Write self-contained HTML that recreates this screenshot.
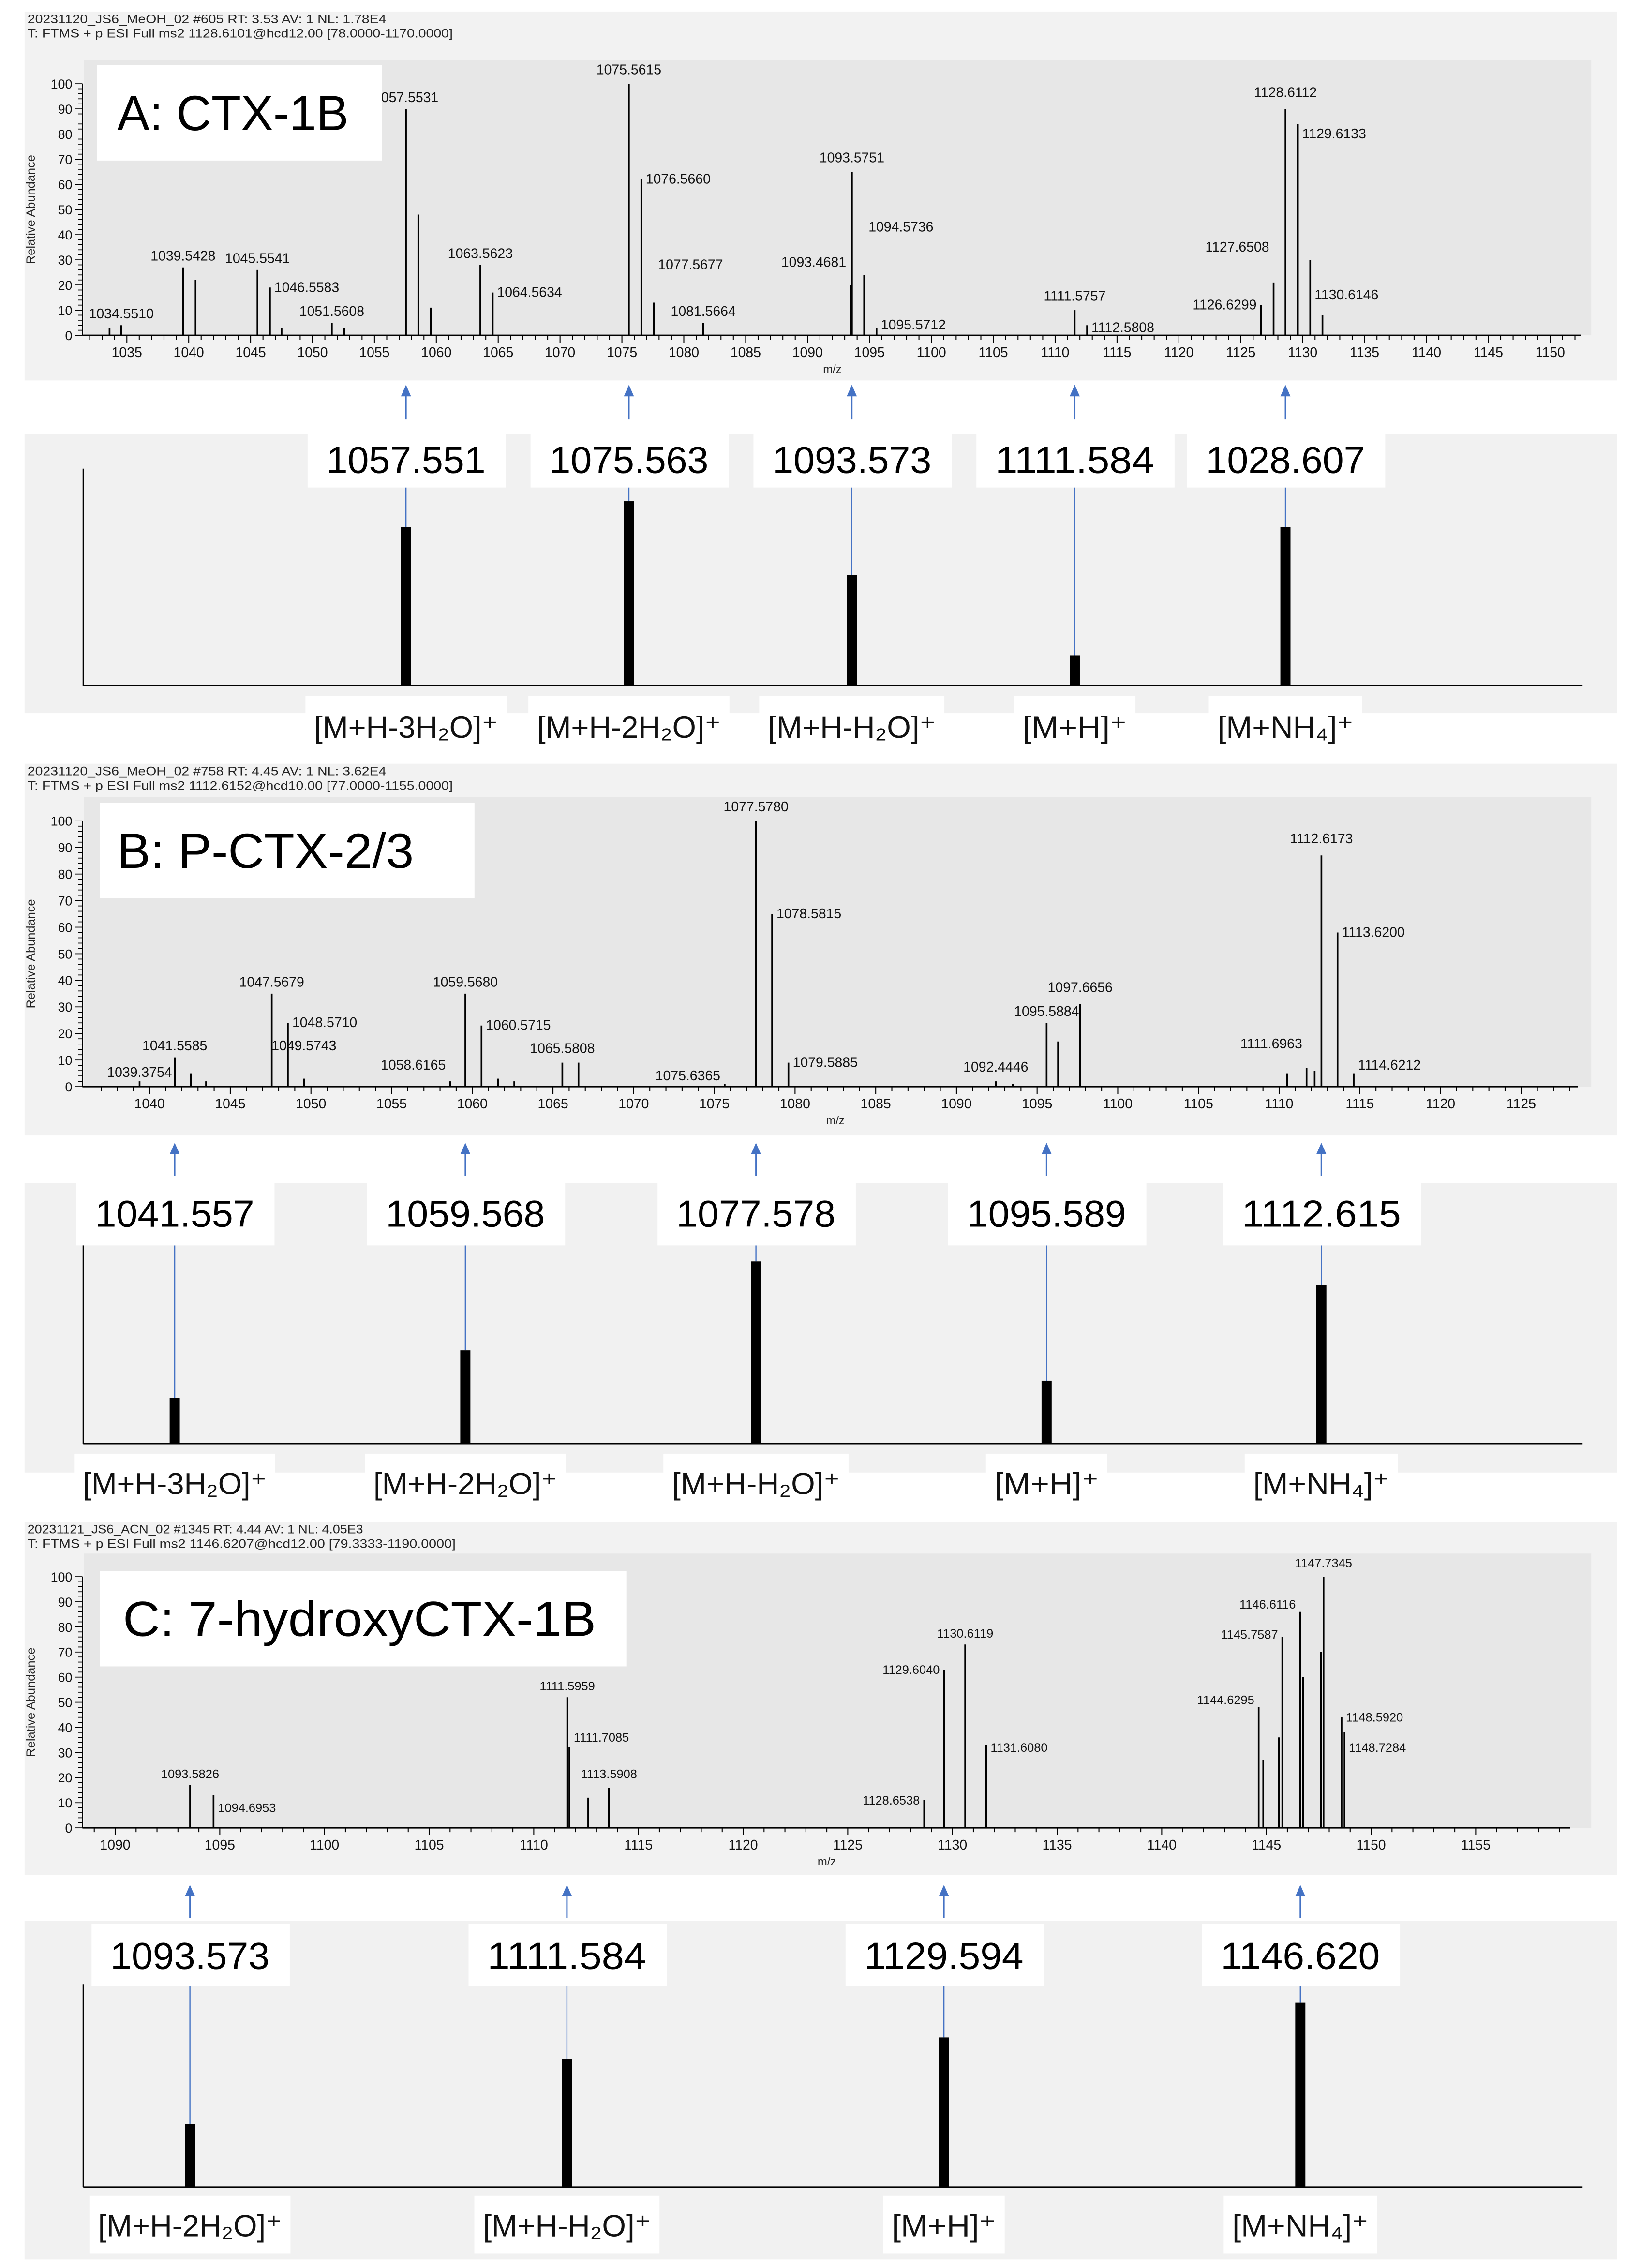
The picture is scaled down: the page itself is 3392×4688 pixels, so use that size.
<!DOCTYPE html>
<html><head><meta charset="utf-8"><style>
html,body{margin:0;padding:0;background:#fff;}
svg{display:block;}
text{font-family:"Liberation Sans",sans-serif;}
</style></head>
<body>
<svg id="fig" xmlns="http://www.w3.org/2000/svg" width="3392" height="4688" viewBox="0 0 1134.4 1567.9" preserveAspectRatio="none"></svg>
<script>
// ---------- DATA ----------
// Panel A spectrum
const aMz  = [1033.6,1034.55,1039.54,1040.55,1045.55,1046.56,1047.5,1051.56,1052.56,1057.55,1058.55,1059.55,1063.56,1064.56,1075.56,1076.57,1077.57,1081.57,1093.47,1093.58,1094.57,1095.57,1111.58,1112.58,1126.63,1127.65,1128.61,1129.61,1130.61,1131.6];
const aInt = [3,4,27,22,26,19,3,5,3,90,48,11,28,17,100,62,13,5,20,65,24,3,10,4,12,21,90,84,30,8];
const aLabMz   = [1034.55,1039.54,1045.55,1046.56,1051.56,1057.55,1063.56,1064.56,1075.56,1076.57,1077.57,1081.57,1093.47,1093.58,1094.57,1095.57,1111.58,1112.58,1126.63,1127.65,1128.61,1129.61,1130.61];
const aLabText = ['1034.5510','1039.5428','1045.5541','1046.5583','1051.5608','1057.5531','1063.5623','1064.5634','1075.5615','1076.5660','1077.5677','1081.5664','1093.4681','1093.5751','1094.5736','1095.5712','1111.5757','1112.5808','1126.6299','1127.6508','1128.6112','1129.6133','1130.6146'];
const aLabLvl  = [5,28,27,19,6,91,29,17,102,62,28,6,29,67,43,4,12,3,12,35,93,80,16];
const aLabMode = ['c','c','c','r','c','c','c','r','c','r','r','c','l','c','r','r','c','r','l','l','c','r','r'];
const aTicks = [1035,1040,1045,1050,1055,1060,1065,1070,1075,1080,1085,1090,1095,1100,1105,1110,1115,1120,1125,1130,1135,1140,1145,1150];
// Panel A diagnostic ions
const aIonMz  = [1057.551,1075.563,1093.573,1111.584,1128.607];
const aIonTxt = ['1057.551','1075.563','1093.573','1111.584','1028.607'];
const aIonInt = [73,85,51,14,73];
const aIonLab = ['[M+H-3H₂O]⁺','[M+H-2H₂O]⁺','[M+H-H₂O]⁺','[M+H]⁺','[M+NH₄]⁺'];

// Panel B spectrum
const bMz  = [1039.38,1041.56,1042.56,1043.5,1047.57,1048.57,1049.57,1058.62,1059.57,1060.57,1061.6,1062.6,1065.58,1066.58,1075.64,1077.58,1078.58,1079.59,1092.44,1093.5,1095.59,1096.3,1097.67,1110.5,1111.7,1112.2,1112.62,1113.62,1114.62];
const bInt = [2,11,5,2,35,24,3,2,35,23,3,2,9,9,1,100,65,9,2,1,24,17,31,5,7,6,87,58,5];
const bLabMz   = [1039.38,1041.56,1047.57,1048.57,1049.57,1058.62,1059.57,1060.57,1065.58,1075.64,1077.58,1078.58,1079.59,1092.44,1095.59,1097.67,1111.7,1112.62,1113.62,1114.62];
const bLabText = ['1039.3754','1041.5585','1047.5679','1048.5710','1049.5743','1058.6165','1059.5680','1060.5715','1065.5808','1075.6365','1077.5780','1078.5815','1079.5885','1092.4446','1095.5884','1097.6656','1111.6963','1112.6173','1113.6200','1114.6212'];
const bLabLvl  = [2,12,36,24,12,8,36,23,11,4,102,65,9,4,25,34,16,90,58,8];
const bLabMode = ['c','c','c','r','c','l','c','r','c','l','c','r','r','c','c','c','l','c','r','r'];
const bTicks = [1040,1045,1050,1055,1060,1065,1070,1075,1080,1085,1090,1095,1100,1105,1110,1115,1120,1125];
const bIonMz  = [1041.557,1059.568,1077.578,1095.589,1112.615];
const bIonTxt = ['1041.557','1059.568','1077.578','1095.589','1112.615'];
const bIonInt = [21,43,84,29,73];
const bIonLab = ['[M+H-3H₂O]⁺','[M+H-2H₂O]⁺','[M+H-H₂O]⁺','[M+H]⁺','[M+NH₄]⁺'];

// Panel C spectrum
const cMz  = [1093.58,1094.7,1111.6,1111.7,1112.6,1113.59,1128.65,1129.6,1130.61,1131.61,1144.63,1144.85,1145.6,1145.76,1146.61,1146.75,1147.6,1147.73,1148.59,1148.73];
const cInt = [17,13,52,32,12,16,11,63,73,33,48,27,36,76,86,60,70,100,44,38];
const cLabMz   = [1093.58,1094.7,1111.6,1111.7,1113.59,1128.65,1129.6,1130.61,1131.61,1144.63,1145.76,1146.61,1147.73,1148.59,1148.73];
const cLabText = ['1093.5826','1094.6953','1111.5959','1111.7085','1113.5908','1128.6538','1129.6040','1130.6119','1131.6080','1144.6295','1145.7587','1146.6116','1147.7345','1148.5920','1148.7284'];
const cLabLvl  = [18,8,53,36,18,11,63,74,32,51,77,89,102,44,32];
const cLabMode = ['c','r','c','r','c','l','l','c','r','l','l','l','c','r','r'];
const cTicks = [1090,1095,1100,1105,1110,1115,1120,1125,1130,1135,1140,1145,1150,1155];
const cIonMz  = [1093.573,1111.584,1129.594,1146.620];
const cIonTxt = ['1093.573','1111.584','1129.594','1146.620'];
const cIonInt = [29,59,69,85];
const cIonLab = ['[M+H-2H₂O]⁺','[M+H-H₂O]⁺','[M+H]⁺','[M+NH₄]⁺'];
const yTicks = [0,10,20,30,40,50,60,70,80,90,100];

// ---------- DRAW ----------
const NS='http://www.w3.org/2000/svg';
const svg=document.getElementById('fig');
function el(tag,attrs,parent,txt){const e=document.createElementNS(NS,tag);for(const k in attrs)e.setAttribute(k,attrs[k]);if(txt!==undefined)e.textContent=txt;(parent||svg).appendChild(e);return e;}

function spectrum(P){
  const g=el('g',{});
  
  
  const X=m=>P.x0+(m-P.m0)*P.k;
  const Y=v=>P.y0-v*P.ky;
  const bg=el('rect',{x:17,y:P.top,width:1101,height:P.bot-P.top,fill:'#f2f2f2'},g);
  
  
  const pl=el('rect',{x:58,y:P.inTop,width:1042,height:P.y0-P.inTop,fill:'#e7e7e7'},g);
  
  
  const h1=el('text',{x:19,y:P.top+8,'font-size':8.5,textLength:P.h1w,lengthAdjust:'spacingAndGlyphs',fill:'#222'},g,P.h1);
  
  
  const h2=el('text',{x:19,y:P.top+18,'font-size':8.5,textLength:P.h2w,lengthAdjust:'spacingAndGlyphs',fill:'#222'},g,P.h2);
  
  
  // axes
  const xa=el('line',{x1:57,y1:P.y0,x2:X(P.mEnd),y2:P.y0,stroke:'#000','stroke-width':1},g);
  
  
  const ya=el('line',{x1:57,y1:P.y0,x2:57,y2:Y(100),stroke:'#000','stroke-width':0.8},g);
  
  
  for(let m=Math.ceil(P.mStart);m<=P.mEnd;m++){
    el('line',{x1:X(m),y1:P.y0,x2:X(m),y2:P.y0+(m%5===0?5:3),stroke:'#000','stroke-width':0.7},g);
  }
  P.ticks.forEach(t=>{
    const tl=el('text',{x:X(t),y:P.y0+15,'font-size':9.5,'text-anchor':'middle',fill:'#111'},g,String(t));
    
    
  });
  for(let v=0;v<=100;v+=2){
    el('line',{x1:v%10===0?52:54,y1:Y(v),x2:57,y2:Y(v),stroke:'#000','stroke-width':0.6},g);
  }
  yTicks.forEach(v=>{
    const tl=el('text',{x:50,y:Y(v)+3.3,'font-size':9,'text-anchor':'end',fill:'#111'},g,String(v));
    
    
  });
  const yl=el('text',{x:0,y:0,'font-size':8.5,'text-anchor':'middle',fill:'#222',transform:`translate(24,${(P.y0+Y(100))/2}) rotate(-90)`},g,'Relative Abundance');
  
  
  const xl=el('text',{x:X((P.mStart+P.mEnd)/2),y:P.y0+26,'font-size':8,'text-anchor':'middle',fill:'#222'},g,'m/z');
  
  
  // peaks
  P.mz.forEach((m,i)=>{
    const p=el('line',{x1:X(m),y1:P.y0,x2:X(m),y2:Y(P.int[i]),stroke:'#000','stroke-width':1.2},g);
    
    
  });
  // peak labels
  P.labMz.forEach((m,i)=>{
    const mode=P.labMode[i], yl=Y(P.labLvl[i]);
    let a={x:X(m),y:yl-3,'text-anchor':'middle'};
    if(mode==='r')a={x:X(m)+3,y:yl+3,'text-anchor':'start'};
    if(mode==='l')a={x:X(m)-3,y:yl+3,'text-anchor':'end'};
    a['font-size']=P.lfs;a.fill='#111';
    const t=el('text',a,g,P.labText[i]);
    
    
  });
  // title box
  const tb=el('rect',{x:P.tb[0],y:P.tb[1],width:P.tb[2],height:P.tb[3],fill:'#fff'},g);
  
  
  const tt=el('text',{x:P.tb[0]+P.tx,y:P.tb[1]+P.tb[3]/2+12,'font-size':34,textLength:P.tw,lengthAdjust:'spacingAndGlyphs',fill:'#000'},g,P.title);
  
  
  return X;
}

function ions(L,X){
  const g=el('g',{});
  
  
  const bg=el('rect',{x:17,y:L.top,width:1101,height:L.bot-L.top,fill:'#f1f1f1'},g);
  
  
  const ya=el('line',{x1:57.6,y1:L.axisTop,x2:57.6,y2:L.base,stroke:'#000','stroke-width':1},g);
  
  
  const xa=el('line',{x1:57.6,y1:L.base,x2:1094,y2:L.base,stroke:'#000','stroke-width':1},g);
  
  
  L.mz.forEach((m,i)=>{
    const x=X(m), top=L.base-L.int[i]*L.s;
    // arrow
    const ar=el('line',{x1:x,y1:L.arT+5,x2:x,y2:L.arB,stroke:'#4472c4','stroke-width':1},g);
    
    
    const ah=el('polygon',{points:`${x-3.5},${L.arT+7} ${x+3.5},${L.arT+7} ${x},${L.arT-1}`,fill:'#4472c4'},g);
    
    
    const bl=el('line',{x1:x,y1:L.boxB,x2:x,y2:top,stroke:'#4472c4','stroke-width':0.8},g);
    
    
    const b=el('rect',{x:x-3.5,y:top,width:7,height:L.base-top,fill:'#000'},g);
    
    
    const lb=el('rect',{x:x-68,y:L.boxT,width:137,height:L.boxB-L.boxT,fill:'#fff'},g);
    
    
    const lt=el('text',{x:x,y:L.txtY,'font-size':26,'text-anchor':'middle',textLength:110,lengthAdjust:'spacingAndGlyphs',fill:'#000'},g,L.txt[i]);
    
    
    const w=L.lab[i].length*11+6;
    const ib=el('rect',{x:x-w/2-6,y:L.blT,width:w+12,height:L.blB-L.blT,fill:'#fff'},g);
    
    
    const it=el('text',{x:x,y:L.blY,'font-size':21,'text-anchor':'middle',textLength:w,lengthAdjust:'spacingAndGlyphs',fill:'#111'},g,L.lab[i]);
    
    
  });
}

const XA=spectrum({name:'spectrum-a',top:8,bot:263,inTop:41.6,x0:87.7,m0:1035,k:8.556,y0:231.8,ky:1.739,mStart:1031.5,mEnd:1152.5,
  h1:'20231120_JS6_MeOH_02 #605 RT: 3.53 AV: 1 NL: 1.78E4',h1w:248,h2:'T: FTMS + p ESI Full ms2 1128.6101@hcd12.00 [78.0000-1170.0000]',h2w:294,
  mz:aMz,int:aInt,labMz:aLabMz,labText:aLabText,labLvl:aLabLvl,labMode:aLabMode,ticks:aTicks,lfs:9.5,
  tb:[67,45,197,66],tx:14,tw:160,title:'A: CTX-1B'});
ions({name:'ion-panel-a',top:300,bot:493,axisTop:324,base:474,s:1.5,arT:267,arB:290,boxT:299,boxB:337,txtY:327,blT:481,blB:520,blY:510,
  mz:aIonMz,txt:aIonTxt,int:aIonInt,lab:aIonLab},XA);

const XB=spectrum({name:'spectrum-b',top:528,bot:785,inTop:551,x0:103.4,m0:1040,k:11.155,y0:751.2,ky:1.837,mStart:1036.5,mEnd:1128.5,
  h1:'20231120_JS6_MeOH_02 #758 RT: 4.45 AV: 1 NL: 3.62E4',h1w:248,h2:'T: FTMS + p ESI Full ms2 1112.6152@hcd10.00 [77.0000-1155.0000]',h2w:294,
  mz:bMz,int:bInt,labMz:bLabMz,labText:bLabText,labLvl:bLabLvl,labMode:bLabMode,ticks:bTicks,lfs:9.5,
  tb:[69,555,259,66],tx:12,tw:205,title:'B: P-CTX-2/3'});
ions({name:'ion-panel-b',top:818,bot:1018,axisTop:860,base:998,s:1.5,arT:791,arB:813,boxT:815,boxB:861,txtY:848,blT:1005,blB:1043,blY:1033,
  mz:bIonMz,txt:bIonTxt,int:bIonInt,lab:bIonLab},XB);

const XC=spectrum({name:'spectrum-c',top:1052,bot:1296,inTop:1074,x0:79.6,m0:1090,k:14.47,y0:1263.6,ky:1.736,mStart:1088.5,mEnd:1159.5,
  h1:'20231121_JS6_ACN_02 #1345 RT: 4.44 AV: 1 NL: 4.05E3',h1w:232,h2:'T: FTMS + p ESI Full ms2 1146.6207@hcd12.00 [79.3333-1190.0000]',h2w:296,
  mz:cMz,int:cInt,labMz:cLabMz,labText:cLabText,labLvl:cLabLvl,labMode:cLabMode,ticks:cTicks,lfs:8.5,
  tb:[69,1086,364,66],tx:16,tw:327,title:'C: 7-hydroxyCTX-1B'});
ions({name:'ion-panel-c',top:1328,bot:1562,axisTop:1372,base:1512,s:1.5,arT:1304,arB:1326,boxT:1330,boxB:1373,txtY:1361,blT:1518,blB:1558,blY:1546,
  mz:cIonMz,txt:cIonTxt,int:cIonInt,lab:cIonLab},XC);
</script>
</body></html>
